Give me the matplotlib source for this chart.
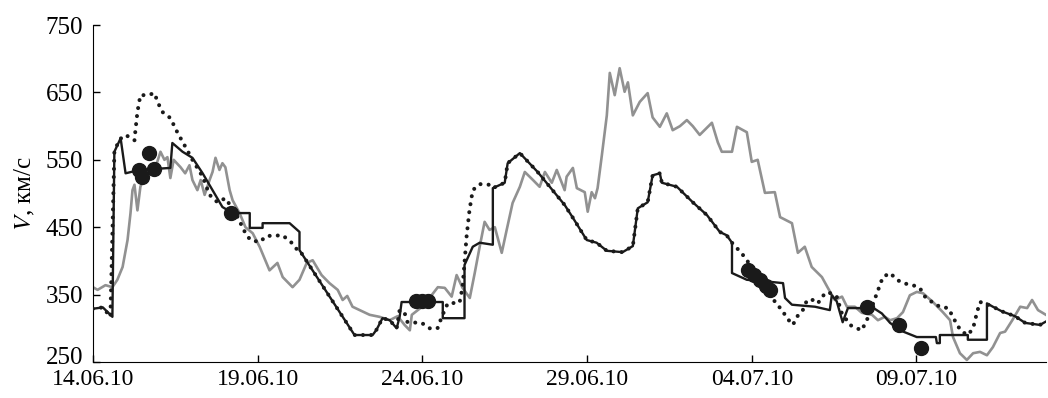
import matplotlib
matplotlib.use("Agg")
import matplotlib.pyplot as plt
import matplotlib.transforms as mtransforms

plt.rcParams['font.family'] = ['Liberation Serif', 'DejaVu Serif']
plt.rcParams['mathtext.fontset'] = 'stix'

# ─── Данные (сутки от 14.06.10, скорость км/с) ─────────────
# наблюдения (серая линия)
obs_t = [0.00, 0.14, 0.38, 0.59, 0.74, 0.90, 1.05, 1.14, 1.20, 1.26, 1.35, 1.44, 1.56,
         1.72, 1.90, 2.05, 2.17, 2.26, 2.35, 2.45, 2.66, 2.80, 2.93, 3.02, 3.17, 3.27,
         3.39, 3.54, 3.63, 3.72, 3.84, 3.93, 4.02, 4.15, 4.24, 4.45, 4.63, 4.85, 5.06,
         5.36, 5.60, 5.76, 6.06, 6.27, 6.49, 6.67, 6.94, 7.18, 7.43, 7.58, 7.72, 7.88,
         8.10, 8.40, 8.70, 9.01, 9.25, 9.46, 9.62, 9.68, 9.86, 10.07, 10.28, 10.47,
         10.68, 10.89, 11.04, 11.22, 11.44, 11.59, 11.74, 11.89, 12.04, 12.20, 12.41,
         12.56, 12.74, 12.96, 13.11, 13.36, 13.56, 13.72, 13.93, 14.08, 14.32, 14.38,
         14.57, 14.69, 14.93, 15.02, 15.14, 15.24, 15.32, 15.45, 15.60, 15.69, 15.84,
         15.99, 16.14, 16.24, 16.39, 16.60, 16.84, 16.99, 17.21, 17.42, 17.60, 17.82,
         18.03, 18.21, 18.42, 18.79, 18.97, 19.09, 19.40, 19.55, 19.85, 20.00, 20.18,
         20.40, 20.70, 20.86, 21.22, 21.40, 21.61, 21.82, 22.13, 22.31, 22.52, 22.74,
         22.89, 23.13, 23.34, 23.65, 23.83, 24.04, 24.20, 24.41, 24.59, 24.80, 25.01,
         25.20, 25.50, 25.80, 26.02, 26.11, 26.32, 26.53, 26.72, 26.93, 27.14, 27.32,
         27.54, 27.69, 27.91, 28.15, 28.36, 28.51, 28.69, 28.93]
obs_v = [361, 357, 364, 361, 372, 391, 431, 471, 505, 513, 475, 510, 525,
         535, 539, 562, 550, 554, 523, 550, 539, 530, 542, 520, 505, 520,
         498, 520, 532, 553, 535, 545, 539, 505, 490, 471, 450, 441, 421,
         386, 397, 376, 361, 372, 397, 401, 379, 367, 357, 342, 348, 332,
         327, 320, 317, 312, 318, 305, 297, 320, 327, 335, 349, 361,
         360, 347, 379, 360, 345, 382, 421, 458, 446, 450, 412,
         446, 486, 510, 532, 520, 510, 532, 516, 535, 505, 525,
         538, 508, 502, 473, 502, 493, 508, 557, 616, 679, 646,
         686, 651, 665, 616, 636, 649, 613, 599, 619, 594, 600,
         609, 600, 587, 605, 576, 562, 562, 599, 591, 547, 550,
         501, 502, 465, 456, 412, 421, 391, 376, 360, 342, 347,
         332, 332, 323, 320, 312, 317, 312, 315, 324, 349, 354,
         352, 339, 324, 312, 287, 263, 253, 263, 265, 260, 272,
         293, 295, 312, 332, 330, 342, 327, 320]

# модель 1 (сплошная чёрная)
mod_t = [0.00, 0.30, 0.53, 0.59, 0.65, 0.84, 0.99, 1.41, 2.35, 2.41, 2.72, 3.02, 3.33,
         3.63, 3.93, 4.24, 4.76, 4.76, 5.15, 5.15, 5.97, 6.27, 6.27, 7.94, 8.49, 8.61,
         8.79, 9.01, 9.22, 9.31, 9.37, 10.62, 10.62, 11.28, 11.28, 11.53, 11.74, 12.14,
         12.14, 12.50, 12.59, 12.96, 13.50, 14.32, 14.57, 14.99, 15.29, 15.60, 16.08,
         16.39, 16.54, 16.84, 16.99, 17.21, 17.27, 17.73, 18.21, 18.64, 19.03, 19.24,
         19.40, 19.40, 19.85, 20.55, 20.95, 21.01, 21.22, 21.92, 22.37, 22.43, 22.58,
         22.76, 22.92, 23.70, 23.95, 24.04, 24.20, 24.50, 25.01, 25.59, 25.62, 25.71,
         25.71, 26.56, 26.56, 27.14, 27.14, 27.32, 27.60, 27.99, 28.30, 28.60, 28.75,
         28.93]
mod_v = [329, 331, 320, 317, 562, 582, 530, 535, 538, 575, 562, 553, 530,
         505, 480, 471, 471, 449, 449, 456, 456, 443, 416, 290, 290, 298,
         315, 312, 300, 317, 339, 339, 315, 315, 394, 421, 427, 424,
         508, 516, 545, 560, 532, 483, 464, 431, 427, 415, 413,
         422, 478, 487, 527, 530, 516, 510, 487, 468, 443, 438,
         427, 382, 372, 369, 367, 345, 335, 332, 327, 349, 340,
         309, 330, 330, 322, 317, 308, 297, 287, 287, 278, 278,
         290, 290, 283, 283, 337, 332, 325, 318, 308, 306, 305,
         310]

# модель 2 (пунктир)
dot_t = [0.00, 0.30, 0.53, 0.65, 0.80, 0.99, 1.26, 1.29, 1.35, 1.44, 1.66, 1.87, 1.96,
         2.11, 2.35, 2.57, 2.81, 3.02, 3.33, 3.54, 3.78, 4.02, 4.33, 4.63, 4.78, 5.06,
         5.27, 5.76, 6.03, 6.21, 6.27, 7.94, 8.49, 8.61, 8.79, 9.01, 9.22, 9.31, 9.46,
         9.55, 9.98, 10.22, 10.46, 10.59, 10.77, 11.13, 11.22, 11.28, 11.34, 11.43,
         11.53, 11.74, 12.04, 12.14, 12.50, 12.59, 12.96, 13.50, 14.32, 14.57, 14.99,
         15.29, 15.60, 16.08, 16.39, 16.54, 16.84, 16.99, 17.21, 17.27, 17.73, 18.21,
         18.64, 19.03, 19.24, 19.40, 19.55, 19.73, 19.94, 20.24, 20.55, 20.70, 20.92,
         21.07, 21.25, 21.37, 21.55, 21.68, 21.86, 22.01, 22.13, 22.31, 22.58, 22.73,
         22.98, 23.19, 23.34, 23.52, 23.80, 23.98, 24.20, 24.41, 24.59, 24.89, 25.10,
         25.26, 25.47, 25.71, 25.96, 26.11, 26.23, 26.38, 26.56, 26.72, 26.84, 26.93,
         27.08, 27.32, 27.60, 27.99, 28.30, 28.60, 28.75, 28.93]
dot_v = [329, 331, 317, 562, 580, 587, 579, 594, 621, 646, 646, 649, 636,
         621, 612, 590, 569, 550, 525, 498, 487, 493, 471, 441, 431, 428,
         437, 438, 427, 416, 416, 290, 290, 298, 315, 312, 300, 327, 323,
         309, 308, 300, 300, 317, 337, 338, 361, 397, 435, 475,
         505, 514, 513, 508, 516, 545, 560, 532, 483, 464, 431,
         427, 415, 413, 422, 478, 487, 527, 530, 516, 510, 487,
         468, 443, 438, 427, 419, 409, 395, 380, 362, 339, 327,
         315, 305, 317, 327, 342, 342, 337, 347, 354, 347, 323,
         305, 300, 297, 315, 352, 376, 382, 372, 367, 364, 360,
         347, 339, 332, 330, 317, 305, 295, 290, 300, 324, 339,
         337, 332, 325, 318, 308, 306, 305, 310]

# отдельные точки (крупные кружки)
pts_t = [1.40, 1.48, 1.71, 1.86, 4.19, 9.80, 9.98, 10.16,
         19.88, 20.06, 20.24, 20.42, 20.55, 23.50, 24.47, 25.14]
pts_v = [535, 525, 560, 537, 471, 340, 340, 340,
         386, 379, 372, 363, 357, 332, 305, 271]

tick_days = [0, 5, 10, 15, 20, 25]
tick_labels = ['14.06.10', '19.06.10', '24.06.10', '29.06.10', '04.07.10', '09.07.10']
y_ticks = [250, 350, 450, 550, 650, 750]

# ─── Рисунок ──────────────────────────────────────────────
fig = plt.figure(figsize=(10.48, 3.98), dpi=100)
ax = fig.add_axes([0.0887, 0.0905, 0.9093, 0.8465])

ax.plot(obs_t, obs_v, color='#919191', lw=1.9, zorder=2)
ax.plot(dot_t, dot_v, color='#1a1a1a', lw=2.9, linestyle=(0, (0.01, 2.0)),
        dash_capstyle='round', zorder=3)
ax.plot(mod_t, mod_v, color='#1a1a1a', lw=1.7, zorder=4)
ax.plot(pts_t, pts_v, 'o', color='#1a1a1a', ms=10, zorder=5)

ax.set_xlim(0, 28.93)
ax.set_ylim(250, 750)
ax.set_xticks(tick_days)
ax.set_xticklabels(tick_labels)
ax.set_yticks(y_ticks)
ax.tick_params(direction='in', length=5, width=1)
ax.tick_params(axis='y', labelsize=18, pad=7)
ax.tick_params(axis='x', labelsize=17, pad=5)
ax.spines['top'].set_visible(False)
ax.spines['right'].set_visible(False)
ax.set_ylabel(r'$V$, км/с', fontsize=18, labelpad=6)

# нижняя метка "250" чуть выше, как в оригинале
lbl = ax.get_yticklabels()[0]
lbl.set_transform(lbl.get_transform() + mtransforms.ScaledTranslation(0, 5 / 72, fig.dpi_scale_trans))

fig.savefig('out.png', dpi=100)
